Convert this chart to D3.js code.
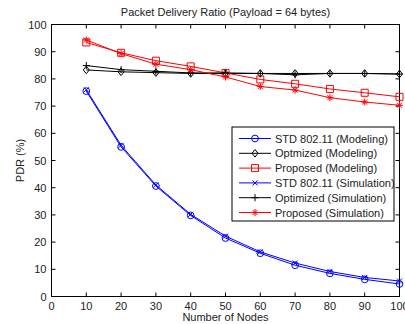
<!DOCTYPE html>
<html>
<head>
<meta charset="utf-8">
<script src="https://cdn.jsdelivr.net/npm/d3@7"></script>
<style>
  body { margin: 0; background: #fff; }
  svg { display: block; font-family: "Liberation Sans", Arial, sans-serif; }
</style>
</head>
<body>
<svg id="chart" width="405" height="324"></svg>
<script>
// PDR vs number of nodes, payload 64 bytes
let nodes = [10, 20, 30, 40, 50, 60, 70, 80, 90, 100];

let stdModel = [75.5, 55.0, 40.6, 29.8, 21.5, 15.9, 11.5, 8.5, 6.3, 4.6];
let optModel = [83.3, 82.6, 82.3, 82.0, 82.0, 82.0, 82.0, 82.0, 82.0, 81.8];
let propModel = [93.4, 89.6, 86.7, 84.6, 82.2, 79.8, 78.2, 76.3, 74.9, 73.4];
let stdSim = [76.0, 55.6, 41.0, 30.2, 22.2, 16.4, 12.3, 9.2, 7.0, 5.7];
let optSim = [84.9, 83.4, 82.8, 82.2, 82.2, 82.0, 81.5, 82.0, 82.0, 81.8];
let propSim = [94.3, 89.3, 85.4, 83.4, 80.7, 77.2, 75.9, 73.1, 71.5, 70.3];

let series = [
  {name: "STD 802.11 (Modeling)", values: stdModel, color: "#0000ff", marker: "circle"},
  {name: "Optmized (Modeling)", values: optModel, color: "#000000", marker: "diamond"},
  {name: "Proposed (Modeling)", values: propModel, color: "#ff0000", marker: "square"},
  {name: "STD 802.11 (Simulation)", values: stdSim, color: "#0000ff", marker: "x"},
  {name: "Optimized (Simulation)", values: optSim, color: "#000000", marker: "plus"},
  {name: "Proposed (Simulation)", values: propSim, color: "#ff0000", marker: "star"}
];

let xTicks = d3.range(0, 101, 10);
let yTicks = d3.range(0, 101, 10);

let plotLeft = 51.5, plotRight = 399.5, plotTop = 24.5, plotBottom = 296.5;

let svg = d3.select("#chart");

let x = d3.scaleLinear().domain([0, 100]).range([plotLeft, plotRight]);
let y = d3.scaleLinear().domain([0, 100]).range([plotBottom, plotTop]);

// markers drawn as small paths centred on 0,0
function markerPath(type) {
  switch (type) {
    case "circle": return d3.symbol(d3.symbolCircle, 36)();
    case "square": return "M-3.5,-3.5H3.5V3.5H-3.5Z";
    case "diamond": return "M0,-3.8L3,0L0,3.8L-3,0Z";
    case "x": return "M-2.5,-2.5L2.5,2.5M-2.5,2.5L2.5,-2.5";
    case "plus": return "M-3.5,0H3.5M0,-3.5V3.5";
    case "star": return "M-3.5,0H3.5M0,-3.5V3.5M-2.5,-2.5L2.5,2.5M-2.5,2.5L2.5,-2.5";
  }
}

// axes box
let ax = svg.append("g");
ax.append("rect")
  .attr("x", plotLeft).attr("y", plotTop)
  .attr("width", plotRight - plotLeft).attr("height", plotBottom - plotTop)
  .attr("fill", "none").attr("stroke", "#000").attr("stroke-width", 1);

let tickLen = 4;
xTicks.forEach(function(t) {
  ax.append("line").attr("x1", x(t)).attr("x2", x(t))
    .attr("y1", plotBottom).attr("y2", plotBottom - tickLen).attr("stroke", "#000");
  ax.append("line").attr("x1", x(t)).attr("x2", x(t))
    .attr("y1", plotTop).attr("y2", plotTop + tickLen).attr("stroke", "#000");
  ax.append("text").attr("x", x(t)).attr("y", plotBottom + 13)
    .attr("text-anchor", "middle").attr("font-size", 11).attr("fill", "#222")
    .text(t);
});
yTicks.forEach(function(t) {
  ax.append("line").attr("x1", plotLeft).attr("x2", plotLeft + tickLen)
    .attr("y1", y(t)).attr("y2", y(t)).attr("stroke", "#000");
  ax.append("line").attr("x1", plotRight).attr("x2", plotRight - tickLen)
    .attr("y1", y(t)).attr("y2", y(t)).attr("stroke", "#000");
  ax.append("text").attr("x", plotLeft - 5).attr("y", y(t) + 4)
    .attr("text-anchor", "end").attr("font-size", 11).attr("fill", "#222")
    .text(t);
});

// titles
svg.append("text").attr("x", (plotLeft + plotRight) / 2).attr("y", 16)
  .attr("text-anchor", "middle").attr("font-size", 11).attr("fill", "#222")
  .text("Packet Delivery Ratio (Payload = 64 bytes)");
svg.append("text").attr("x", (plotLeft + plotRight) / 2).attr("y", 321)
  .attr("text-anchor", "middle").attr("font-size", 11).attr("fill", "#222")
  .text("Number of Nodes");
svg.append("text")
  .attr("transform", "translate(24," + ((plotTop + plotBottom) / 2) + ") rotate(-90)")
  .attr("text-anchor", "middle").attr("font-size", 11).attr("fill", "#222")
  .text("PDR (%)");

// lines and markers
let line = d3.line()
  .x(function(d, i) { return x(nodes[i]); })
  .y(function(d) { return y(d); });

series.forEach(function(s) {
  let g = svg.append("g");
  g.append("path").attr("d", line(s.values))
    .attr("fill", "none").attr("stroke", s.color).attr("stroke-width", 1);
  g.selectAll("path.m").data(s.values).enter().append("path")
    .attr("class", "m")
    .attr("transform", function(d, i) { return "translate(" + x(nodes[i]) + "," + y(d) + ")"; })
    .attr("d", markerPath(s.marker))
    .attr("fill", "none").attr("stroke", s.color).attr("stroke-width", 1);
});

// legend
let lg = svg.append("g");
let lx = 232, ly = 127, lw = 162, lh = 94, rowH = 14.8;
lg.append("rect").attr("x", lx).attr("y", ly).attr("width", lw).attr("height", lh)
  .attr("fill", "#fff").attr("stroke", "#000").attr("stroke-width", 1);
series.forEach(function(s, i) {
  let cy = ly + 11.5 + i * rowH;
  lg.append("line").attr("x1", lx + 7).attr("x2", lx + 39)
    .attr("y1", cy).attr("y2", cy).attr("stroke", s.color);
  lg.append("path").attr("transform", "translate(" + (lx + 23) + "," + cy + ")")
    .attr("d", markerPath(s.marker)).attr("fill", "none").attr("stroke", s.color);
  lg.append("text").attr("x", lx + 43).attr("y", cy + 4)
    .attr("font-size", 11).attr("fill", "#222").text(s.name);
});
</script>
</body>
</html>
